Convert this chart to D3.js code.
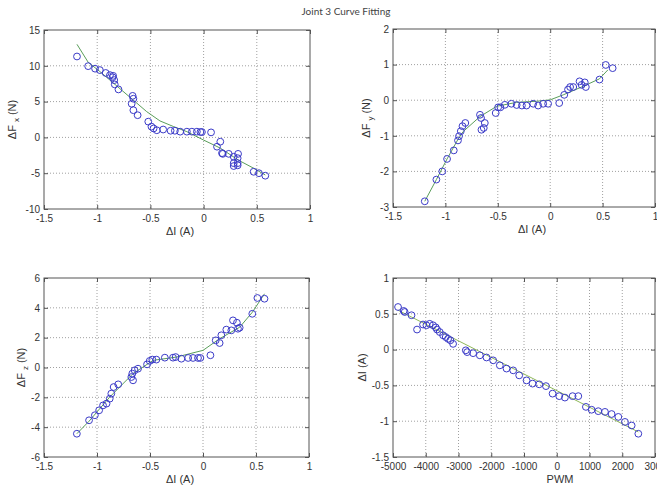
<!DOCTYPE html>
<html>
<head>
<meta charset="utf-8">
<script src="https://cdn.jsdelivr.net/npm/d3@7"></script>
<style>
  html, body { margin: 0; padding: 0; background: #fff; }
  svg { display: block; }
  text { font-family: "Liberation Sans", Arial, sans-serif; fill: #333; }
</style>
</head>
<body>
<svg id="chart" width="657" height="488"></svg>
<script>
// ---------- data ----------
const title = "Joint 3 Curve Fitting";

// Panel 1: ΔFx vs ΔI
const fxI = [-1.19,-1.085,-1.02,-0.975,-0.92,-0.88,-0.855,-0.85,-0.84,-0.835,-0.80,-0.667,-0.66,-0.676,-0.66,-0.62,-0.52,-0.49,-0.47,-0.44,-0.38,-0.31,-0.27,-0.22,-0.157,-0.11,-0.063,-0.03,-0.016,0.07,0.157,0.126,0.173,0.18,0.236,0.283,0.324,0.32,0.283,0.32,0.283,0.32,0.47,0.52,0.58];
const fxF = [11.3,9.95,9.6,9.4,9.0,8.7,8.4,8.6,8.0,7.4,6.7,5.8,5.4,4.7,3.8,3.1,2.2,1.5,1.25,1.0,1.1,0.93,0.93,0.8,0.8,0.8,0.8,0.75,0.75,0.7,-0.6,-1.3,-2.2,-2.3,-2.3,-2.7,-2.3,-2.9,-3.6,-3.6,-4.0,-3.9,-4.8,-5.0,-5.35];
const fxFitI = [-1.19,-1.085,-0.975,-0.88,-0.786,-0.66,-0.535,-0.41,-0.28,-0.157,0,0.157,0.33,0.47,0.58];
const fxFitF = [13.0,10.5,9.2,8.0,6.8,5.2,3.6,2.3,1.5,0.8,-0.37,-1.5,-3.2,-4.3,-5.25];

// Panel 2: ΔFy vs ΔI
const fyI = [-1.197,-1.086,-1.03,-0.984,-0.92,-0.88,-0.87,-0.853,-0.837,-0.81,-0.67,-0.66,-0.656,-0.624,-0.634,-0.52,-0.497,-0.475,-0.433,-0.37,-0.32,-0.27,-0.226,-0.162,-0.115,-0.067,-0.02,0.086,0.134,0.17,0.19,0.22,0.28,0.30,0.33,0.34,0.47,0.53,0.596];
const fyF = [-2.84,-2.23,-2.0,-1.65,-1.41,-1.13,-1.01,-0.87,-0.73,-0.64,-0.41,-0.5,-0.83,-0.64,-0.78,-0.36,-0.2,-0.2,-0.13,-0.1,-0.135,-0.15,-0.15,-0.1,-0.15,-0.1,-0.1,-0.08,0.15,0.3,0.37,0.37,0.53,0.43,0.5,0.37,0.58,0.99,0.9];
const fyFitI = [-1.197,-1.086,-0.984,-0.88,-0.83,-0.67,-0.51,-0.32,-0.13,0,0.124,0.315,0.47,0.55];
const fyFitF = [-2.84,-2.23,-1.65,-1.1,-0.88,-0.46,-0.17,-0.06,-0.03,0.01,0.15,0.39,0.6,0.85];

// Panel 3: ΔFz vs ΔI
const fzI = [-1.19,-1.075,-1.02,-0.98,-0.943,-0.91,-0.88,-0.865,-0.843,-0.80,-0.676,-0.667,-0.66,-0.645,-0.613,-0.528,-0.503,-0.478,-0.44,-0.36,-0.283,-0.258,-0.204,-0.14,-0.094,-0.047,-0.025,0.07,0.12,0.157,0.173,0.22,0.267,0.283,0.32,0.33,0.346,0.465,0.513,0.58];
const fzF = [-4.44,-3.54,-3.2,-2.87,-2.54,-2.42,-2.09,-1.75,-1.31,-1.13,-0.64,-0.41,-0.86,-0.19,-0.08,0.21,0.44,0.53,0.53,0.66,0.66,0.7,0.59,0.64,0.64,0.64,0.64,0.82,1.82,1.64,2.16,2.54,2.49,3.16,3.0,2.6,2.67,3.6,4.66,4.61];
const fzFitI = [-1.19,-1.075,-0.88,-0.66,-0.47,-0.25,0,0.157,0.346,0.465,0.58];
const fzFitF = [-4.44,-3.6,-1.98,-0.41,0.48,0.7,1.15,1.93,2.7,3.7,4.94];

// Panel 4: ΔI vs PWM
const pwm = [-4846,-4674,-4643,-4435,-4266,-4083,-3980,-3880,-3778,-3695,-3655,-3573,-3471,-3390,-3318,-3247,-3165,-2777,-2736,-2553,-2349,-2145,-1942,-1738,-1534,-1330,-1147,-922,-738,-536,-330,-128,76,249,484,658,890,1064,1268,1472,1675,1880,2083,2287,2491];
const pwmI = [0.595,0.54,0.525,0.48,0.28,0.35,0.34,0.36,0.34,0.31,0.28,0.245,0.2,0.175,0.15,0.13,0.08,-0.01,-0.035,-0.05,-0.08,-0.11,-0.15,-0.22,-0.265,-0.29,-0.36,-0.43,-0.475,-0.485,-0.51,-0.615,-0.65,-0.67,-0.65,-0.65,-0.8,-0.84,-0.86,-0.87,-0.9,-0.94,-1.01,-1.06,-1.175];
const pwmFit = [-4846, 2491];
const pwmFitI = [0.55, -1.15];

// ticks
const iTicks = [-1.5,-1,-0.5,0,0.5,1];
const fxTicks = [-10,-5,0,5,10,15];
const fyTicks = [-3,-2,-1,0,1,2];
const fzTicks = [-6,-4,-2,0,2,4,6];
const pwmTicks = [-5000,-4000,-3000,-2000,-1000,0,1000,2000,3000];
const dITicks = [-1.5,-1,-0.5,0,0.5,1];

// ---------- drawing ----------
const svg = d3.select("#chart");
const BLUE = "#3b3bc8", GREEN = "#5a9e5a";

svg.append("text").attr("x", 346).attr("y", 15).attr("text-anchor", "middle")
  .style("font-family", "Lato, 'Open Sans', sans-serif").style("font-size", "10px").style("fill", "#444")
  .text(title);

function panel(o) {
  const x = d3.scaleLinear().domain([o.xTicks[0], o.xTicks[o.xTicks.length-1]]).range([o.left, o.right]);
  const y = d3.scaleLinear().domain([o.yTicks[0], o.yTicks[o.yTicks.length-1]]).range([o.bottom, o.top]);
  const g = svg.append("g");
  const fmt = d => String(d);

  // grid
  g.append("g").selectAll("line").data(o.xTicks.slice(1, -1)).join("line")
    .attr("x1", d => x(d)).attr("x2", d => x(d)).attr("y1", o.top).attr("y2", o.bottom)
    .attr("stroke", "#a0a0a0").attr("stroke-width", 1).attr("stroke-dasharray", "1,2");
  g.append("g").selectAll("line").data(o.yTicks.slice(1, -1)).join("line")
    .attr("y1", d => y(d)).attr("y2", d => y(d)).attr("x1", o.left).attr("x2", o.right)
    .attr("stroke", "#a0a0a0").attr("stroke-width", 1).attr("stroke-dasharray", "1,2");

  // axes with inward ticks (MATLAB style)
  const ax = g.append("g").attr("transform", `translate(0,${o.bottom})`)
    .call(d3.axisBottom(x).tickValues(o.xTicks).tickSize(-4).tickPadding(6).tickFormat(fmt));
  const ay = g.append("g").attr("transform", `translate(${o.left},0)`)
    .call(d3.axisLeft(y).tickValues(o.yTicks).tickSize(-4).tickPadding(4).tickFormat(fmt));
  const axT = g.append("g").attr("transform", `translate(0,${o.top})`)
    .call(d3.axisTop(x).tickValues(o.xTicks).tickSize(-4).tickFormat(""));
  const ayR = g.append("g").attr("transform", `translate(${o.right},0)`)
    .call(d3.axisRight(y).tickValues(o.yTicks).tickSize(-4).tickFormat(""));
  [ax, ay, axT, ayR].forEach(a => {
    a.select(".domain").remove();
    a.selectAll("line").attr("stroke", "#555");
    a.selectAll("text").style("font-size", "10px").style("fill", "#333")
      .style("font-family", "'Liberation Sans', Arial, sans-serif");
  });
  g.append("rect").attr("x", o.left).attr("y", o.top)
    .attr("width", o.right - o.left).attr("height", o.bottom - o.top)
    .attr("fill", "none").attr("stroke", "#555").attr("stroke-width", 1);

  // fit line
  const fit = o.fitX.map((v, i) => [v, o.fitY[i]]);
  g.append("path").datum(fit)
    .attr("d", d3.line().x(d => x(d[0])).y(d => y(d[1])))
    .attr("fill", "none").attr("stroke", o.lineColor || GREEN).attr("stroke-width", 1);

  // points
  g.append("g").selectAll("circle").data(o.xs.map((v, i) => [v, o.ys[i]])).join("circle")
    .attr("cx", d => x(d[0])).attr("cy", d => y(d[1])).attr("r", 3.4)
    .attr("fill", "none").attr("stroke", BLUE).attr("stroke-width", 1);

  // x label
  g.append("text").attr("x", o.xLabelX).attr("y", o.bottom + 26)
    .attr("text-anchor", "middle").style("font-size", "11px").style("fill", "#333")
    .text(o.xLabel);

  // y label
  const yl = g.append("text")
    .attr("transform", `translate(${o.yLabelX},${(o.top + o.bottom) / 2}) rotate(-90)`)
    .attr("text-anchor", "middle").style("font-size", "11px").style("fill", "#333");
  yl.append("tspan").text(o.yLabel[0]);
  if (o.yLabel[1]) {
    yl.append("tspan").attr("dy", 3).style("font-size", "8px").text(o.yLabel[1]);
    yl.append("tspan").attr("dy", -3).text(o.yLabel[2]);
  }
}

panel({ left: 44, right: 310, top: 30, bottom: 209, xTicks: iTicks, yTicks: fxTicks,
  xs: fxI, ys: fxF, fitX: fxFitI, fitY: fxFitF,
  xLabel: "\u0394I (A)", xLabelX: 180, yLabel: ["\u0394F ", "x", "  (N)"], yLabelX: 16 });
panel({ left: 393, right: 655, top: 29, bottom: 207, xTicks: iTicks, yTicks: fyTicks,
  xs: fyI, ys: fyF, fitX: fyFitI, fitY: fyFitF,
  xLabel: "\u0394I (A)", xLabelX: 532, yLabel: ["\u0394F ", "y", "  (N)"], yLabelX: 370 });
panel({ left: 44, right: 309, top: 278, bottom: 457, xTicks: iTicks, yTicks: fzTicks,
  xs: fzI, ys: fzF, fitX: fzFitI, fitY: fzFitF,
  xLabel: "\u0394I (A)", xLabelX: 180, yLabel: ["\u0394F ", "z", "  (N)"], yLabelX: 25 });
panel({ left: 393, right: 655, top: 278, bottom: 457, xTicks: pwmTicks, yTicks: dITicks,
  xs: pwm, ys: pwmI, fitX: pwmFit, fitY: pwmFitI, lineColor: "#8fb85a",
  xLabel: "PWM", xLabelX: 560, yLabel: ["\u0394I (A)"], yLabelX: 366 });
</script>
</body>
</html>
